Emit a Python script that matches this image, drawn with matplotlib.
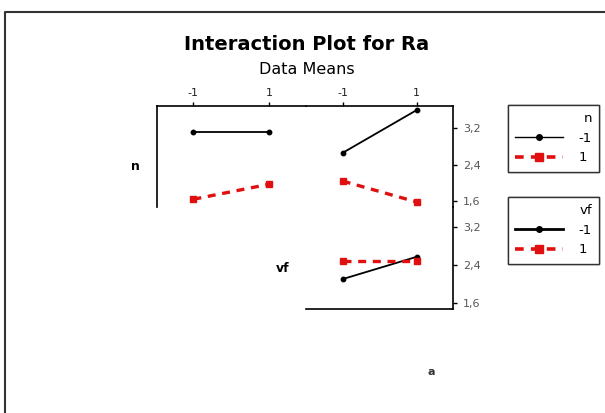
import matplotlib
matplotlib.use("Agg")
import matplotlib.pyplot as plt
from matplotlib.lines import Line2D

# factor levels and cell means
levels = [-1, 1]
ytick_vals = [1.6, 2.4, 3.2]
ytick_labels = ["1,6", "2,4", "3,2"]

# top row, trace = n
n_lo_vs_vf = [3.11, 3.11]
n_hi_vs_vf = [1.64, 1.97]
n_lo_vs_a = [2.66, 3.60]
n_hi_vs_a = [2.04, 1.58]
# second row, trace = vf
vf_lo_vs_a = [2.11, 2.58]
vf_hi_vs_a = [2.50, 2.50]

W, H = 605, 413
RED = "#e01010"
GREY = "#444444"
RED_DASH = (2.4, 2.0)

fig = plt.figure(figsize=(W / 100, H / 100), dpi=100)


def px_axes(x0, y0, x1, y1):
    return fig.add_axes([x0 / W, 1 - y1 / H, (x1 - x0) / W, (y1 - y0) / H])


def draw_pair(ax, lo, hi):
    ax.plot(levels, lo, color="black", lw=1.3, marker="o", ms=3.2)
    ax.plot(levels, hi, color=RED, lw=2.4, marker="s", ms=4.2,
            dashes=RED_DASH)


ax_tl = px_axes(156.7, 106, 306, 207)
ax_tr = px_axes(306, 106, 453.3, 207)
ax_br = px_axes(306, 207, 453.3, 308.5)

draw_pair(ax_tl, n_lo_vs_vf, n_hi_vs_vf)
draw_pair(ax_tr, n_lo_vs_a, n_hi_vs_a)
draw_pair(ax_br, vf_lo_vs_a, vf_hi_vs_a)

ax_tl.set_xlim(-1.97, 1.98)
ax_tr.set_xlim(-1.99, 1.99)
ax_br.set_xlim(-1.99, 1.99)
ax_tl.set_ylim(1.47, 3.69)
ax_tr.set_ylim(1.47, 3.69)
ax_br.set_ylim(1.49, 3.63)

for ax in (ax_tl, ax_tr, ax_br):
    for s in ax.spines.values():
        s.set_visible(False)
        s.set_linewidth(1.2)
    ax.set_facecolor("none")
    ax.tick_params(axis="both", which="both", length=0, labelsize=8,
                   colors=GREY, width=1)
    ax.set_xticks([])
    ax.set_yticks([])

# visible spines, like the reference
ax_tl.spines["left"].set_visible(True)
ax_tl.spines["top"].set_visible(True)
ax_tr.spines["top"].set_visible(True)
ax_tr.spines["right"].set_visible(True)
ax_br.spines["right"].set_visible(True)
ax_br.spines["bottom"].set_visible(True)

# top x ticks
for ax in (ax_tl, ax_tr):
    ax.xaxis.tick_top()
    ax.set_xticks(levels)
    ax.set_xticklabels(["-1", "1"])
    ax.tick_params(axis="x", length=3, direction="out", pad=3,
                   colors="black", labelcolor="#222222")

# right y ticks
for ax in (ax_tr, ax_br):
    ax.yaxis.tick_right()
    ax.set_yticks(ytick_vals)
    ax.set_yticklabels(ytick_labels)
    ax.tick_params(axis="y", length=3, direction="out", pad=4,
                   colors="black", labelcolor="#555555")

# factor names on the diagonal
fig.text(135 / W, 1 - 167 / H, "n", fontsize=9, fontweight="bold",
         ha="center", va="center")
fig.text(283 / W, 1 - 268 / H, "vf", fontsize=9, fontweight="bold",
         ha="center", va="center")
fig.text(431 / W, 1 - 372 / H, "a", fontsize=8, fontweight="bold",
         ha="center", va="center", color="#333333")

# titles
fig.text(307 / W, 1 - 45 / H, "Interaction Plot for Ra", fontsize=14,
         fontweight="bold", ha="center", va="center")
fig.text(307 / W, 1 - 70 / H, "Data Means", fontsize=11.5,
         ha="center", va="center")

# legends
h_lo = Line2D([], [], color="black", lw=1.0, marker="o", ms=4)
h_hi = Line2D([], [], color=RED, lw=2.6, marker="s", ms=5.5, dashes=RED_DASH)
h_lo2 = Line2D([], [], color="black", lw=2.0, marker="o", ms=4)

for top, handles, title in ((105, [h_lo, h_hi], "n"),
                            (197, [h_lo2, h_hi], "vf")):
    leg = fig.legend(handles, ["-1", "1"], title=title, loc="upper left",
                     bbox_to_anchor=(508 / W, 1 - top / H), borderaxespad=0,
                     fontsize=9.5, title_fontsize=9.5, handlelength=3.6,
                     handletextpad=1.2, labelspacing=0.5, borderpad=0.55,
                     fancybox=False, framealpha=1, edgecolor="#333333",
                     alignment="right")
    leg.get_frame().set_linewidth(1.0)
    fig.add_artist(leg)

# outer frame (left and top edges show in the reference)
fig.add_artist(Line2D([5 / W, 5 / W, 1.0], [0.0, 1 - 12 / H, 1 - 12 / H],
                      transform=fig.transFigure, color="#333333", lw=1.5))

fig.savefig("out.png", dpi=100)
